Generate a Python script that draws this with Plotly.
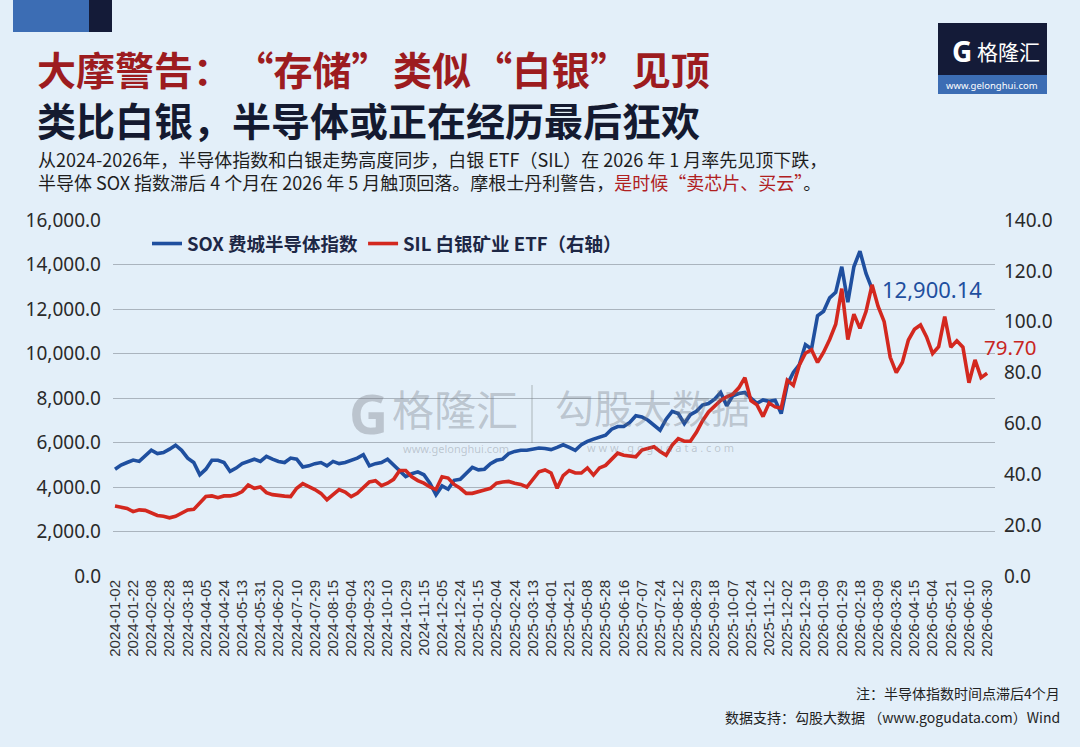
import plotly.graph_objects as go
import pandas as pd

# ---------------- data ----------------
tick_dates = [
    "2024-01-02", "2024-01-22", "2024-02-08", "2024-02-28", "2024-03-18", "2024-04-05",
    "2024-04-24", "2024-05-13", "2024-05-31", "2024-06-20", "2024-07-10", "2024-07-29",
    "2024-08-15", "2024-09-04", "2024-09-23", "2024-10-10", "2024-10-29", "2024-11-15",
    "2024-12-05", "2024-12-24", "2025-01-15", "2025-02-04", "2025-02-24", "2025-03-13",
    "2025-04-01", "2025-04-21", "2025-05-08", "2025-05-28", "2025-06-16", "2025-07-07",
    "2025-07-24", "2025-08-12", "2025-08-29", "2025-09-18", "2025-10-07", "2025-10-24",
    "2025-11-12", "2025-12-02", "2025-12-19", "2026-01-09", "2026-01-29", "2026-02-18",
    "2026-03-09", "2026-03-26", "2026-04-15", "2026-05-04", "2026-05-21", "2026-06-10",
    "2026-06-30",
]

# SOX index (left axis), three readings per tick interval
sox = [
    4800, 4990, 5100, 5210, 5150, 5400, 5650, 5500, 5550, 5700,
    5880, 5650, 5300, 5100, 4550, 4800, 5200, 5200, 5100, 4700,
    4850, 5050, 5150, 5250, 5150, 5380, 5250, 5150, 5100, 5300,
    5250, 4900, 4950, 5050, 5100, 4950, 5150, 5050, 5100, 5200,
    5300, 5450, 4950, 5050, 5100, 5250, 5000, 4760, 4470, 4600,
    4680, 4550, 4170, 3650, 4050, 3900, 4300, 4350, 4620, 4880,
    4770, 4800, 5050, 5200, 5250, 5500, 5600, 5650, 5650, 5720,
    5750, 5730, 5680, 5780, 5900, 5780, 5650, 5900, 6050, 6150,
    6250, 6330, 6600, 6720, 6720, 6900, 7200, 7150, 7000, 6800,
    6550, 7050, 7400, 7300, 6850, 7250, 7400, 7680, 7750, 7950,
    8250, 7650, 8100, 8200, 8250, 7990, 7760, 7910, 7850, 7900,
    7300, 8600, 9150, 9500, 10400, 10200, 11700, 11900, 12500, 12750,
    13900, 12300, 13900, 14600, 13600, 12900.14,
    None, None, None, None, None, None, None, None, None, None,
    None, None, None, None, None, None, None, None, None,
]

# SIL silver miners ETF (right axis)
sil = [
    27.5, 27.0, 26.6, 25.3, 26.0, 25.8, 24.8, 23.8, 23.5, 22.9,
    23.5, 24.9, 26.0, 26.2, 29.0, 31.3, 31.5, 30.8, 31.5, 31.5,
    32.0, 33.2, 35.8, 34.5, 35.0, 32.8, 32.0, 31.6, 31.4, 31.2,
    34.5, 36.3, 35.3, 34.0, 32.5, 30.0, 32.0, 34.0, 33.0, 31.2,
    32.5, 35.0, 37.0, 37.5, 35.5, 36.5, 38.0, 41.5, 41.5, 39.0,
    37.5, 36.5, 35.0, 34.0, 39.0, 38.5, 36.0, 34.5, 32.5, 32.5,
    33.0, 33.8, 34.5, 36.5, 37.0, 37.2, 36.5, 36.0, 35.0, 37.8,
    41.0, 41.7, 40.5, 34.5, 39.5, 41.5, 40.5, 40.5, 42.5, 39.7,
    42.5, 43.5, 46.0, 48.3, 47.5, 47.2, 46.9, 49.5, 50.0, 50.8,
    49.0, 47.5, 51.5, 54.0, 53.0, 53.0, 56.5, 61.0, 64.5, 67.0,
    69.0, 70.5, 71.5, 74.0, 78.0, 69.0, 67.3, 62.7, 68.0, 66.5,
    66.0, 77.0, 75.0, 83.0, 87.6, 89.0, 84.0, 88.0, 93.0, 99.0,
    113.0, 93.0, 103.0, 97.4, 104.0, 114.5, 106.0, 100.0, 86.0, 80.0,
    84.0, 92.8, 97.0, 98.7, 94.0, 87.5, 90.2, 102.0, 90.0, 92.5,
    90.0, 76.0, 85.0, 78.0, 79.70,
]

sox_name = "SOX 费城半导体指数"
sil_name = "SIL 白银矿业 ETF（右轴）"

# categories: each tick date plus two trading days inside each interval
cats = []
for a, b in zip(tick_dates[:-1], tick_dates[1:]):
    days = pd.bdate_range(a, b)
    n = len(days) - 1
    cats += [a, days[round(n / 3)].strftime("%Y-%m-%d"), days[round(2 * n / 3)].strftime("%Y-%m-%d")]
cats.append(tick_dates[-1])

# ---------------- layout helpers ----------------
W, H = 1080, 747
L, R, T, B = 113, 85, 220, 171
PW, PH = W - L - R, H - T - B

def pxx(x):
    return (x - L) / PW

def pxy(y):
    return (T + PH - y) / PH

BLUE = "#1f4f9f"
RED = "#d3281f"
BG = "#e3eff9"
CJK = "Noto Sans CJK SC"
WM = "rgba(105,110,118,0.33)"
HS = "\u200a"  # hair space

fig = go.Figure()
fig.add_trace(go.Scatter(x=cats, y=sox, name=sox_name, mode="lines",
                         line=dict(color=BLUE, width=3.6), connectgaps=False))
fig.add_trace(go.Scatter(x=cats, y=sil, name=sil_name, mode="lines", yaxis="y2",
                         line=dict(color=RED, width=3.6)))

n = len(cats)
fig.update_layout(
    width=W, height=H,
    margin=dict(l=L, r=R, t=T, b=B, pad=0),
    paper_bgcolor=BG, plot_bgcolor=BG,
    font=dict(family=CJK, color="#222"),
    showlegend=True,
    legend=dict(orientation="h", x=pxx(147), y=pxy(244), xanchor="left", yanchor="middle",
                bgcolor="rgba(0,0,0,0)", font=dict(size=18.5, color="#1d2745", family=CJK, weight="bold"),
                itemwidth=30, tracegroupgap=0),
    xaxis=dict(type="category", categoryorder="array", categoryarray=cats,
               range=[-0.33, n - 1 + 1.3], tickmode="array", tickvals=tick_dates, ticktext=tick_dates,
               tickangle=-90, showgrid=False, showline=False, zeroline=False, ticks="",
               tickfont=dict(family="Liberation Sans", size=15, color="#333")),
    yaxis=dict(range=[0, 16000], dtick=2000, tick0=0, tickformat=",.1f",
               showgrid=True, gridcolor="#aab4be", gridwidth=1, zeroline=False, showline=False,
               tickfont=dict(family="Noto Sans", size=19, color="#2a2a2a"), ticklabelstandoff=11),
    yaxis2=dict(range=[0, 140], dtick=20, tick0=0, tickformat=".1f", overlaying="y", side="right",
                showgrid=False, zeroline=False, showline=False,
                tickfont=dict(family="Noto Sans", size=19, color="#2a2a2a"), ticklabelstandoff=8),
)

shapes = [
    dict(type="rect", xref="paper", yref="paper", x0=pxx(13), x1=pxx(89), y0=pxy(0), y1=pxy(32),
         fillcolor="#3c6db4", line=dict(width=0), layer="below"),
    dict(type="rect", xref="paper", yref="paper", x0=pxx(89), x1=pxx(112), y0=pxy(0), y1=pxy(32),
         fillcolor="#141b38", line=dict(width=0), layer="below"),
    dict(type="rect", xref="paper", yref="paper", x0=pxx(938), x1=pxx(1047), y0=pxy(23), y1=pxy(75),
         fillcolor="#141b38", line=dict(width=0)),
    dict(type="rect", xref="paper", yref="paper", x0=pxx(938), x1=pxx(1047), y0=pxy(75), y1=pxy(94),
         fillcolor="#3c6db4", line=dict(width=0)),
    dict(type="line", xref="paper", yref="paper", x0=pxx(532), x1=pxx(532), y0=pxy(385), y1=pxy(443),
         line=dict(color="rgba(120,125,130,0.35)", width=1.5)),
]
fig.update_layout(shapes=shapes)

def ann(text, x, y, size, color, xanchor="left", family=CJK, weight="normal", yanchor="middle"):
    return dict(text=text, xref="paper", yref="paper", x=pxx(x), y=pxy(y), xanchor=xanchor,
                yanchor=yanchor, align="left", showarrow=False,
                font=dict(size=size, color=color, family=family, weight=weight))

title1 = f"大摩警告：{HS}“存储”{HS}类似{HS}“白银”{HS}见顶"
title2 = "类比白银，半导体或正在经历最后狂欢"
sub1 = "从2024-2026年，半导体指数和白银走势高度同步，白银 ETF（SIL）在 2026 年 1 月率先见顶下跌，"
sub2 = ("半导体 SOX 指数滞后 4 个月在 2026 年 5 月触顶回落。摩根士丹利警告，"
        "<span style='color:#b0201f'>是时候“卖芯片、买云”</span>。")

anns = [
    ann(f"<span style='color:#9d1c1f'>{title1}</span><br><span style='color:#141a30'>{title2}</span>",
        35, 93.5, 39, "#141a30", weight="bold"),
    ann(f"{sub1}<br>{sub2}", 36, 170, 18, "#1e1e1e"),
    # logo
    ann("<b>G</b>", 962, 51, 28, "white", xanchor="center", family="Noto Sans"),
    ann("格隆汇", 1008, 51, 21, "white", xanchor="center"),
    ann("www.gelonghui.com", 992, 85, 9.5, "white", xanchor="center", family="Noto Sans"),
    # watermark
    ann("<b>G</b>", 368, 413, 54, WM, xanchor="center", family="Noto Sans"),
    ann("格隆汇", 455, 407, 42, WM, xanchor="center"),
    ann("www.gelonghui.com", 456, 448, 11, WM, xanchor="center", family="Noto Sans"),
    ann("勾股大数据", 652, 406, 39, WM, xanchor="center"),
    ann("w w w . g o g u d a t a . c o m", 660, 447, 11, WM, xanchor="center", family="Noto Sans"),
    # footer
    ann("注：半导体指数时间点滞后4个月", 1062, 693, 14, "#222", xanchor="right"),
    ann("数据支持：勾股大数据 （www.gogudata.com）Wind", 1062, 717, 14, "#222", xanchor="right"),
]

# end-value labels tied to data
last_sox_i = max(i for i, v in enumerate(sox) if v is not None)
anns.append(dict(text=f"{sox[last_sox_i]:,.2f}", x=cats[last_sox_i], y=sox[last_sox_i], xref="x", yref="y",
                 xanchor="left", yanchor="middle", xshift=8, yshift=0, showarrow=False,
                 font=dict(size=22, color=BLUE, family="Noto Sans")))
anns.append(dict(text=f"{sil[-1]:.2f}", x=cats[-1], y=sil[-1], xref="x", yref="y2",
                 xanchor="left", yanchor="middle", xshift=-5, yshift=26, showarrow=False,
                 font=dict(size=20.5, color="#c8261f", family="Noto Sans")))

fig.update_layout(annotations=anns)
fig.write_html("out.html")
